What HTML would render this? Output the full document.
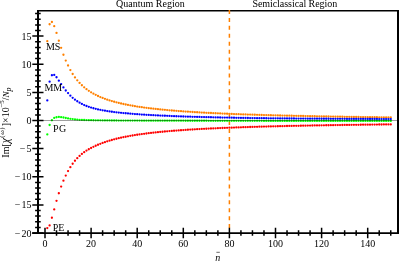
<!DOCTYPE html>
<html><head><meta charset="utf-8"><title>plot</title>
<style>
html,body{margin:0;padding:0;background:#fff;}
body{width:399px;height:261px;overflow:hidden;position:relative;font-family:"Liberation Serif",serif;}
</style></head><body>
<svg width="399" height="261" viewBox="0 0 399 261" style="position:absolute;left:0;top:0;will-change:transform">
<rect width="399" height="261" fill="#fff"/>
<g stroke="#000" fill="none">
<path d="M37.0 10.774999999999999 H399.0" stroke-width="1.65"/>
<path d="M398.0 9.95 V233.875" stroke-width="2"/>
</g>
<line x1="229.40" y1="10.0" x2="229.40" y2="229.0" stroke="#ff8000" stroke-width="1.5" stroke-dasharray="4 3.93"/>
<g fill="#ff8000"><circle cx="47.30" cy="41.22" r="1.15"/><circle cx="49.61" cy="24.23" r="1.15"/><circle cx="51.91" cy="21.98" r="1.15"/><circle cx="54.22" cy="26.20" r="1.15"/><circle cx="56.52" cy="32.95" r="1.15"/><circle cx="58.83" cy="40.73" r="1.15"/><circle cx="61.14" cy="47.82" r="1.15"/><circle cx="63.44" cy="54.75" r="1.15"/><circle cx="65.75" cy="60.57" r="1.15"/><circle cx="68.05" cy="65.52" r="1.15"/><circle cx="70.36" cy="70.08" r="1.15"/><circle cx="72.66" cy="74.01" r="1.15"/><circle cx="74.97" cy="77.41" r="1.15"/><circle cx="77.27" cy="80.36" r="1.15"/><circle cx="79.58" cy="82.94" r="1.15"/><circle cx="81.88" cy="85.24" r="1.15"/><circle cx="84.19" cy="87.30" r="1.15"/><circle cx="86.49" cy="89.15" r="1.15"/><circle cx="88.80" cy="90.80" r="1.15"/><circle cx="91.10" cy="92.29" r="1.15"/><circle cx="93.41" cy="93.64" r="1.15"/><circle cx="95.71" cy="94.87" r="1.15"/><circle cx="98.02" cy="96.00" r="1.15"/><circle cx="100.32" cy="97.03" r="1.15"/><circle cx="102.62" cy="97.97" r="1.15"/><circle cx="104.93" cy="98.84" r="1.15"/><circle cx="107.24" cy="99.64" r="1.15"/><circle cx="109.54" cy="100.39" r="1.15"/><circle cx="111.84" cy="101.09" r="1.15"/><circle cx="114.15" cy="101.75" r="1.15"/><circle cx="116.45" cy="102.36" r="1.15"/><circle cx="118.76" cy="102.94" r="1.15"/><circle cx="121.07" cy="103.48" r="1.15"/><circle cx="123.37" cy="103.99" r="1.15"/><circle cx="125.68" cy="104.48" r="1.15"/><circle cx="127.98" cy="104.93" r="1.15"/><circle cx="130.29" cy="105.36" r="1.15"/><circle cx="132.59" cy="105.77" r="1.15"/><circle cx="134.90" cy="106.16" r="1.15"/><circle cx="137.20" cy="106.53" r="1.15"/><circle cx="139.50" cy="106.88" r="1.15"/><circle cx="141.81" cy="107.22" r="1.15"/><circle cx="144.12" cy="107.54" r="1.15"/><circle cx="146.42" cy="107.84" r="1.15"/><circle cx="148.73" cy="108.14" r="1.15"/><circle cx="151.03" cy="108.42" r="1.15"/><circle cx="153.34" cy="108.68" r="1.15"/><circle cx="155.64" cy="108.94" r="1.15"/><circle cx="157.94" cy="109.19" r="1.15"/><circle cx="160.25" cy="109.43" r="1.15"/><circle cx="162.56" cy="109.65" r="1.15"/><circle cx="164.86" cy="109.87" r="1.15"/><circle cx="167.17" cy="110.09" r="1.15"/><circle cx="169.47" cy="110.29" r="1.15"/><circle cx="171.78" cy="110.49" r="1.15"/><circle cx="174.08" cy="110.68" r="1.15"/><circle cx="176.39" cy="110.86" r="1.15"/><circle cx="178.69" cy="111.04" r="1.15"/><circle cx="181.00" cy="111.21" r="1.15"/><circle cx="183.30" cy="111.38" r="1.15"/><circle cx="185.61" cy="111.54" r="1.15"/><circle cx="187.91" cy="111.69" r="1.15"/><circle cx="190.22" cy="111.85" r="1.15"/><circle cx="192.52" cy="111.99" r="1.15"/><circle cx="194.83" cy="112.13" r="1.15"/><circle cx="197.13" cy="112.27" r="1.15"/><circle cx="199.44" cy="112.41" r="1.15"/><circle cx="201.74" cy="112.54" r="1.15"/><circle cx="204.05" cy="112.66" r="1.15"/><circle cx="206.35" cy="112.79" r="1.15"/><circle cx="208.66" cy="112.91" r="1.15"/><circle cx="210.96" cy="113.02" r="1.15"/><circle cx="213.27" cy="113.14" r="1.15"/><circle cx="215.57" cy="113.25" r="1.15"/><circle cx="217.88" cy="113.35" r="1.15"/><circle cx="220.18" cy="113.46" r="1.15"/><circle cx="222.49" cy="113.56" r="1.15"/><circle cx="224.79" cy="113.66" r="1.15"/><circle cx="227.09" cy="113.76" r="1.15"/><circle cx="229.40" cy="113.85" r="1.15"/><circle cx="231.71" cy="113.95" r="1.15"/><circle cx="234.01" cy="114.04" r="1.15"/><circle cx="236.32" cy="114.13" r="1.15"/><circle cx="238.62" cy="114.21" r="1.15"/><circle cx="240.93" cy="114.30" r="1.15"/><circle cx="243.23" cy="114.38" r="1.15"/><circle cx="245.54" cy="114.46" r="1.15"/><circle cx="247.84" cy="114.54" r="1.15"/><circle cx="250.15" cy="114.62" r="1.15"/><circle cx="252.45" cy="114.69" r="1.15"/><circle cx="254.76" cy="114.77" r="1.15"/><circle cx="257.06" cy="114.84" r="1.15"/><circle cx="259.37" cy="114.91" r="1.15"/><circle cx="261.67" cy="114.98" r="1.15"/><circle cx="263.98" cy="115.05" r="1.15"/><circle cx="266.28" cy="115.11" r="1.15"/><circle cx="268.59" cy="115.18" r="1.15"/><circle cx="270.89" cy="115.24" r="1.15"/><circle cx="273.20" cy="115.30" r="1.15"/><circle cx="275.50" cy="115.36" r="1.15"/><circle cx="277.81" cy="115.42" r="1.15"/><circle cx="280.11" cy="115.48" r="1.15"/><circle cx="282.42" cy="115.54" r="1.15"/><circle cx="284.72" cy="115.60" r="1.15"/><circle cx="287.02" cy="115.65" r="1.15"/><circle cx="289.33" cy="115.71" r="1.15"/><circle cx="291.63" cy="115.76" r="1.15"/><circle cx="293.94" cy="115.81" r="1.15"/><circle cx="296.25" cy="115.87" r="1.15"/><circle cx="298.55" cy="115.92" r="1.15"/><circle cx="300.86" cy="115.97" r="1.15"/><circle cx="303.16" cy="116.02" r="1.15"/><circle cx="305.47" cy="116.06" r="1.15"/><circle cx="307.77" cy="116.11" r="1.15"/><circle cx="310.08" cy="116.16" r="1.15"/><circle cx="312.38" cy="116.21" r="1.15"/><circle cx="314.69" cy="116.25" r="1.15"/><circle cx="316.99" cy="116.30" r="1.15"/><circle cx="319.30" cy="116.34" r="1.15"/><circle cx="321.60" cy="116.38" r="1.15"/><circle cx="323.91" cy="116.43" r="1.15"/><circle cx="326.21" cy="116.47" r="1.15"/><circle cx="328.52" cy="116.51" r="1.15"/><circle cx="330.82" cy="116.55" r="1.15"/><circle cx="333.12" cy="116.59" r="1.15"/><circle cx="335.43" cy="116.63" r="1.15"/><circle cx="337.74" cy="116.67" r="1.15"/><circle cx="340.04" cy="116.71" r="1.15"/><circle cx="342.35" cy="116.75" r="1.15"/><circle cx="344.65" cy="116.79" r="1.15"/><circle cx="346.96" cy="116.82" r="1.15"/><circle cx="349.26" cy="116.86" r="1.15"/><circle cx="351.56" cy="116.89" r="1.15"/><circle cx="353.87" cy="116.93" r="1.15"/><circle cx="356.18" cy="116.97" r="1.15"/><circle cx="358.48" cy="117.00" r="1.15"/><circle cx="360.79" cy="117.03" r="1.15"/><circle cx="363.09" cy="117.07" r="1.15"/><circle cx="365.40" cy="117.10" r="1.15"/><circle cx="367.70" cy="117.13" r="1.15"/><circle cx="370.00" cy="117.17" r="1.15"/><circle cx="372.31" cy="117.20" r="1.15"/><circle cx="374.62" cy="117.23" r="1.15"/><circle cx="376.92" cy="117.26" r="1.15"/><circle cx="379.23" cy="117.29" r="1.15"/><circle cx="381.53" cy="117.32" r="1.15"/><circle cx="383.84" cy="117.35" r="1.15"/><circle cx="386.14" cy="117.38" r="1.15"/><circle cx="388.45" cy="117.41" r="1.15"/><circle cx="390.75" cy="117.44" r="1.15"/></g>
<g fill="#0000ff"><circle cx="47.30" cy="100.38" r="1.15"/><circle cx="49.61" cy="81.71" r="1.15"/><circle cx="51.91" cy="75.24" r="1.15"/><circle cx="54.22" cy="74.89" r="1.15"/><circle cx="56.52" cy="77.26" r="1.15"/><circle cx="58.83" cy="80.67" r="1.15"/><circle cx="61.14" cy="84.08" r="1.15"/><circle cx="63.44" cy="87.47" r="1.15"/><circle cx="65.75" cy="90.49" r="1.15"/><circle cx="68.05" cy="93.12" r="1.15"/><circle cx="70.36" cy="95.64" r="1.15"/><circle cx="72.66" cy="97.78" r="1.15"/><circle cx="74.97" cy="99.65" r="1.15"/><circle cx="77.27" cy="101.27" r="1.15"/><circle cx="79.58" cy="102.71" r="1.15"/><circle cx="81.88" cy="103.96" r="1.15"/><circle cx="84.19" cy="105.04" r="1.15"/><circle cx="86.49" cy="105.99" r="1.15"/><circle cx="88.80" cy="106.85" r="1.15"/><circle cx="91.10" cy="107.61" r="1.15"/><circle cx="93.41" cy="108.26" r="1.15"/><circle cx="95.71" cy="108.86" r="1.15"/><circle cx="98.02" cy="109.39" r="1.15"/><circle cx="100.32" cy="109.87" r="1.15"/><circle cx="102.62" cy="110.32" r="1.15"/><circle cx="104.93" cy="110.72" r="1.15"/><circle cx="107.24" cy="111.09" r="1.15"/><circle cx="109.54" cy="111.43" r="1.15"/><circle cx="111.84" cy="111.74" r="1.15"/><circle cx="114.15" cy="112.03" r="1.15"/><circle cx="116.45" cy="112.31" r="1.15"/><circle cx="118.76" cy="112.56" r="1.15"/><circle cx="121.07" cy="112.80" r="1.15"/><circle cx="123.37" cy="113.04" r="1.15"/><circle cx="125.68" cy="113.26" r="1.15"/><circle cx="127.98" cy="113.47" r="1.15"/><circle cx="130.29" cy="113.67" r="1.15"/><circle cx="132.59" cy="113.86" r="1.15"/><circle cx="134.90" cy="114.04" r="1.15"/><circle cx="137.20" cy="114.21" r="1.15"/><circle cx="139.50" cy="114.37" r="1.15"/><circle cx="141.81" cy="114.53" r="1.15"/><circle cx="144.12" cy="114.68" r="1.15"/><circle cx="146.42" cy="114.82" r="1.15"/><circle cx="148.73" cy="114.96" r="1.15"/><circle cx="151.03" cy="115.09" r="1.15"/><circle cx="153.34" cy="115.21" r="1.15"/><circle cx="155.64" cy="115.33" r="1.15"/><circle cx="157.94" cy="115.45" r="1.15"/><circle cx="160.25" cy="115.56" r="1.15"/><circle cx="162.56" cy="115.67" r="1.15"/><circle cx="164.86" cy="115.77" r="1.15"/><circle cx="167.17" cy="115.87" r="1.15"/><circle cx="169.47" cy="115.97" r="1.15"/><circle cx="171.78" cy="116.06" r="1.15"/><circle cx="174.08" cy="116.15" r="1.15"/><circle cx="176.39" cy="116.24" r="1.15"/><circle cx="178.69" cy="116.32" r="1.15"/><circle cx="181.00" cy="116.40" r="1.15"/><circle cx="183.30" cy="116.48" r="1.15"/><circle cx="185.61" cy="116.56" r="1.15"/><circle cx="187.91" cy="116.63" r="1.15"/><circle cx="190.22" cy="116.71" r="1.15"/><circle cx="192.52" cy="116.78" r="1.15"/><circle cx="194.83" cy="116.84" r="1.15"/><circle cx="197.13" cy="116.91" r="1.15"/><circle cx="199.44" cy="116.97" r="1.15"/><circle cx="201.74" cy="117.04" r="1.15"/><circle cx="204.05" cy="117.10" r="1.15"/><circle cx="206.35" cy="117.16" r="1.15"/><circle cx="208.66" cy="117.21" r="1.15"/><circle cx="210.96" cy="117.27" r="1.15"/><circle cx="213.27" cy="117.32" r="1.15"/><circle cx="215.57" cy="117.38" r="1.15"/><circle cx="217.88" cy="117.43" r="1.15"/><circle cx="220.18" cy="117.48" r="1.15"/><circle cx="222.49" cy="117.53" r="1.15"/><circle cx="224.79" cy="117.58" r="1.15"/><circle cx="227.09" cy="117.62" r="1.15"/><circle cx="229.40" cy="117.67" r="1.15"/><circle cx="231.71" cy="117.72" r="1.15"/><circle cx="234.01" cy="117.76" r="1.15"/><circle cx="236.32" cy="117.80" r="1.15"/><circle cx="238.62" cy="117.84" r="1.15"/><circle cx="240.93" cy="117.89" r="1.15"/><circle cx="243.23" cy="117.93" r="1.15"/><circle cx="245.54" cy="117.96" r="1.15"/><circle cx="247.84" cy="118.00" r="1.15"/><circle cx="250.15" cy="118.04" r="1.15"/><circle cx="252.45" cy="118.08" r="1.15"/><circle cx="254.76" cy="118.11" r="1.15"/><circle cx="257.06" cy="118.14" r="1.15"/><circle cx="259.37" cy="118.17" r="1.15"/><circle cx="261.67" cy="118.20" r="1.15"/><circle cx="263.98" cy="118.22" r="1.15"/><circle cx="266.28" cy="118.25" r="1.15"/><circle cx="268.59" cy="118.28" r="1.15"/><circle cx="270.89" cy="118.30" r="1.15"/><circle cx="273.20" cy="118.33" r="1.15"/><circle cx="275.50" cy="118.35" r="1.15"/><circle cx="277.81" cy="118.37" r="1.15"/><circle cx="280.11" cy="118.39" r="1.15"/><circle cx="282.42" cy="118.42" r="1.15"/><circle cx="284.72" cy="118.44" r="1.15"/><circle cx="287.02" cy="118.46" r="1.15"/><circle cx="289.33" cy="118.48" r="1.15"/><circle cx="291.63" cy="118.50" r="1.15"/><circle cx="293.94" cy="118.52" r="1.15"/><circle cx="296.25" cy="118.54" r="1.15"/><circle cx="298.55" cy="118.56" r="1.15"/><circle cx="300.86" cy="118.58" r="1.15"/><circle cx="303.16" cy="118.60" r="1.15"/><circle cx="305.47" cy="118.61" r="1.15"/><circle cx="307.77" cy="118.63" r="1.15"/><circle cx="310.08" cy="118.65" r="1.15"/><circle cx="312.38" cy="118.67" r="1.15"/><circle cx="314.69" cy="118.68" r="1.15"/><circle cx="316.99" cy="118.70" r="1.15"/><circle cx="319.30" cy="118.71" r="1.15"/><circle cx="321.60" cy="118.73" r="1.15"/><circle cx="323.91" cy="118.74" r="1.15"/><circle cx="326.21" cy="118.76" r="1.15"/><circle cx="328.52" cy="118.77" r="1.15"/><circle cx="330.82" cy="118.79" r="1.15"/><circle cx="333.12" cy="118.80" r="1.15"/><circle cx="335.43" cy="118.82" r="1.15"/><circle cx="337.74" cy="118.83" r="1.15"/><circle cx="340.04" cy="118.84" r="1.15"/><circle cx="342.35" cy="118.86" r="1.15"/><circle cx="344.65" cy="118.87" r="1.15"/><circle cx="346.96" cy="118.88" r="1.15"/><circle cx="349.26" cy="118.89" r="1.15"/><circle cx="351.56" cy="118.91" r="1.15"/><circle cx="353.87" cy="118.92" r="1.15"/><circle cx="356.18" cy="118.93" r="1.15"/><circle cx="358.48" cy="118.94" r="1.15"/><circle cx="360.79" cy="118.95" r="1.15"/><circle cx="363.09" cy="118.96" r="1.15"/><circle cx="365.40" cy="118.97" r="1.15"/><circle cx="367.70" cy="118.98" r="1.15"/><circle cx="370.00" cy="118.99" r="1.15"/><circle cx="372.31" cy="119.00" r="1.15"/><circle cx="374.62" cy="119.01" r="1.15"/><circle cx="376.92" cy="119.02" r="1.15"/><circle cx="379.23" cy="119.03" r="1.15"/><circle cx="381.53" cy="119.04" r="1.15"/><circle cx="383.84" cy="119.05" r="1.15"/><circle cx="386.14" cy="119.06" r="1.15"/><circle cx="388.45" cy="119.07" r="1.15"/><circle cx="390.75" cy="119.08" r="1.15"/></g>
<g fill="#00ff00"><circle cx="47.30" cy="134.46" r="1.15"/><circle cx="49.61" cy="125.00" r="1.15"/><circle cx="51.91" cy="120.26" r="1.15"/><circle cx="54.22" cy="117.89" r="1.15"/><circle cx="56.52" cy="117.26" r="1.15"/><circle cx="58.83" cy="116.97" r="1.15"/><circle cx="61.14" cy="117.13" r="1.15"/><circle cx="63.44" cy="117.52" r="1.15"/><circle cx="65.75" cy="118.01" r="1.15"/><circle cx="68.05" cy="118.40" r="1.15"/><circle cx="70.36" cy="118.78" r="1.15"/><circle cx="72.66" cy="119.11" r="1.15"/><circle cx="74.97" cy="119.39" r="1.15"/><circle cx="77.27" cy="119.62" r="1.15"/><circle cx="79.58" cy="119.79" r="1.15"/><circle cx="81.88" cy="119.93" r="1.15"/><circle cx="84.19" cy="120.01" r="1.15"/><circle cx="86.49" cy="120.09" r="1.15"/><circle cx="88.80" cy="120.15" r="1.15"/><circle cx="91.10" cy="120.20" r="1.15"/><circle cx="93.41" cy="120.24" r="1.15"/><circle cx="95.71" cy="120.28" r="1.15"/><circle cx="98.02" cy="120.33" r="1.15"/><circle cx="100.32" cy="120.37" r="1.15"/><circle cx="102.62" cy="120.40" r="1.15"/><circle cx="104.93" cy="120.42" r="1.15"/><circle cx="107.24" cy="120.45" r="1.15"/><circle cx="109.54" cy="120.47" r="1.15"/><circle cx="111.84" cy="120.49" r="1.15"/><circle cx="114.15" cy="120.50" r="1.15"/><circle cx="116.45" cy="120.52" r="1.15"/><circle cx="118.76" cy="120.53" r="1.15"/><circle cx="121.07" cy="120.54" r="1.15"/><circle cx="123.37" cy="120.55" r="1.15"/><circle cx="125.68" cy="120.56" r="1.15"/><circle cx="127.98" cy="120.57" r="1.15"/><circle cx="130.29" cy="120.58" r="1.15"/><circle cx="132.59" cy="120.59" r="1.15"/><circle cx="134.90" cy="120.60" r="1.15"/><circle cx="137.20" cy="120.61" r="1.15"/><circle cx="139.50" cy="120.62" r="1.15"/><circle cx="141.81" cy="120.63" r="1.15"/><circle cx="144.12" cy="120.64" r="1.15"/><circle cx="146.42" cy="120.65" r="1.15"/><circle cx="148.73" cy="120.66" r="1.15"/><circle cx="151.03" cy="120.66" r="1.15"/><circle cx="153.34" cy="120.66" r="1.15"/><circle cx="155.64" cy="120.67" r="1.15"/><circle cx="157.94" cy="120.67" r="1.15"/><circle cx="160.25" cy="120.68" r="1.15"/><circle cx="162.56" cy="120.68" r="1.15"/><circle cx="164.86" cy="120.68" r="1.15"/><circle cx="167.17" cy="120.69" r="1.15"/><circle cx="169.47" cy="120.69" r="1.15"/><circle cx="171.78" cy="120.70" r="1.15"/><circle cx="174.08" cy="120.70" r="1.15"/><circle cx="176.39" cy="120.71" r="1.15"/><circle cx="178.69" cy="120.71" r="1.15"/><circle cx="181.00" cy="120.72" r="1.15"/><circle cx="183.30" cy="120.72" r="1.15"/><circle cx="185.61" cy="120.73" r="1.15"/><circle cx="187.91" cy="120.73" r="1.15"/><circle cx="190.22" cy="120.74" r="1.15"/><circle cx="192.52" cy="120.74" r="1.15"/><circle cx="194.83" cy="120.75" r="1.15"/><circle cx="197.13" cy="120.75" r="1.15"/><circle cx="199.44" cy="120.76" r="1.15"/><circle cx="201.74" cy="120.76" r="1.15"/><circle cx="204.05" cy="120.77" r="1.15"/><circle cx="206.35" cy="120.77" r="1.15"/><circle cx="208.66" cy="120.78" r="1.15"/><circle cx="210.96" cy="120.78" r="1.15"/><circle cx="213.27" cy="120.79" r="1.15"/><circle cx="215.57" cy="120.79" r="1.15"/><circle cx="217.88" cy="120.80" r="1.15"/><circle cx="220.18" cy="120.80" r="1.15"/><circle cx="222.49" cy="120.81" r="1.15"/><circle cx="224.79" cy="120.81" r="1.15"/><circle cx="227.09" cy="120.82" r="1.15"/><circle cx="229.40" cy="120.82" r="1.15"/><circle cx="231.71" cy="120.83" r="1.15"/><circle cx="234.01" cy="120.83" r="1.15"/><circle cx="236.32" cy="120.84" r="1.15"/><circle cx="238.62" cy="120.84" r="1.15"/><circle cx="240.93" cy="120.84" r="1.15"/><circle cx="243.23" cy="120.85" r="1.15"/><circle cx="245.54" cy="120.85" r="1.15"/><circle cx="247.84" cy="120.86" r="1.15"/><circle cx="250.15" cy="120.86" r="1.15"/><circle cx="252.45" cy="120.86" r="1.15"/><circle cx="254.76" cy="120.87" r="1.15"/><circle cx="257.06" cy="120.87" r="1.15"/><circle cx="259.37" cy="120.87" r="1.15"/><circle cx="261.67" cy="120.87" r="1.15"/><circle cx="263.98" cy="120.88" r="1.15"/><circle cx="266.28" cy="120.88" r="1.15"/><circle cx="268.59" cy="120.88" r="1.15"/><circle cx="270.89" cy="120.88" r="1.15"/><circle cx="273.20" cy="120.88" r="1.15"/><circle cx="275.50" cy="120.88" r="1.15"/><circle cx="277.81" cy="120.89" r="1.15"/><circle cx="280.11" cy="120.89" r="1.15"/><circle cx="282.42" cy="120.89" r="1.15"/><circle cx="284.72" cy="120.89" r="1.15"/><circle cx="287.02" cy="120.89" r="1.15"/><circle cx="289.33" cy="120.89" r="1.15"/><circle cx="291.63" cy="120.89" r="1.15"/><circle cx="293.94" cy="120.89" r="1.15"/><circle cx="296.25" cy="120.90" r="1.15"/><circle cx="298.55" cy="120.90" r="1.15"/><circle cx="300.86" cy="120.90" r="1.15"/><circle cx="303.16" cy="120.90" r="1.15"/><circle cx="305.47" cy="120.90" r="1.15"/><circle cx="307.77" cy="120.90" r="1.15"/><circle cx="310.08" cy="120.90" r="1.15"/><circle cx="312.38" cy="120.90" r="1.15"/><circle cx="314.69" cy="120.90" r="1.15"/><circle cx="316.99" cy="120.91" r="1.15"/><circle cx="319.30" cy="120.91" r="1.15"/><circle cx="321.60" cy="120.91" r="1.15"/><circle cx="323.91" cy="120.91" r="1.15"/><circle cx="326.21" cy="120.91" r="1.15"/><circle cx="328.52" cy="120.91" r="1.15"/><circle cx="330.82" cy="120.91" r="1.15"/><circle cx="333.12" cy="120.91" r="1.15"/><circle cx="335.43" cy="120.91" r="1.15"/><circle cx="337.74" cy="120.91" r="1.15"/><circle cx="340.04" cy="120.91" r="1.15"/><circle cx="342.35" cy="120.91" r="1.15"/><circle cx="344.65" cy="120.91" r="1.15"/><circle cx="346.96" cy="120.91" r="1.15"/><circle cx="349.26" cy="120.91" r="1.15"/><circle cx="351.56" cy="120.91" r="1.15"/><circle cx="353.87" cy="120.92" r="1.15"/><circle cx="356.18" cy="120.92" r="1.15"/><circle cx="358.48" cy="120.92" r="1.15"/><circle cx="360.79" cy="120.92" r="1.15"/><circle cx="363.09" cy="120.92" r="1.15"/><circle cx="365.40" cy="120.92" r="1.15"/><circle cx="367.70" cy="120.92" r="1.15"/><circle cx="370.00" cy="120.92" r="1.15"/><circle cx="372.31" cy="120.92" r="1.15"/><circle cx="374.62" cy="120.92" r="1.15"/><circle cx="376.92" cy="120.92" r="1.15"/><circle cx="379.23" cy="120.91" r="1.15"/><circle cx="381.53" cy="120.91" r="1.15"/><circle cx="383.84" cy="120.91" r="1.15"/><circle cx="386.14" cy="120.91" r="1.15"/><circle cx="388.45" cy="120.91" r="1.15"/><circle cx="390.75" cy="120.91" r="1.15"/></g>
<g fill="#ff0000"><circle cx="47.30" cy="228.12" r="1.15"/><circle cx="49.61" cy="225.43" r="1.15"/><circle cx="51.91" cy="217.74" r="1.15"/><circle cx="54.22" cy="209.39" r="1.15"/><circle cx="56.52" cy="200.79" r="1.15"/><circle cx="58.83" cy="193.27" r="1.15"/><circle cx="61.14" cy="186.53" r="1.15"/><circle cx="63.44" cy="180.71" r="1.15"/><circle cx="65.75" cy="175.55" r="1.15"/><circle cx="68.05" cy="171.03" r="1.15"/><circle cx="70.36" cy="167.16" r="1.15"/><circle cx="72.66" cy="163.74" r="1.15"/><circle cx="74.97" cy="160.76" r="1.15"/><circle cx="77.27" cy="158.17" r="1.15"/><circle cx="79.58" cy="155.91" r="1.15"/><circle cx="81.88" cy="153.90" r="1.15"/><circle cx="84.19" cy="152.15" r="1.15"/><circle cx="86.49" cy="150.61" r="1.15"/><circle cx="88.80" cy="149.24" r="1.15"/><circle cx="91.10" cy="147.99" r="1.15"/><circle cx="93.41" cy="146.84" r="1.15"/><circle cx="95.71" cy="145.76" r="1.15"/><circle cx="98.02" cy="144.76" r="1.15"/><circle cx="100.32" cy="143.81" r="1.15"/><circle cx="102.62" cy="142.94" r="1.15"/><circle cx="104.93" cy="142.13" r="1.15"/><circle cx="107.24" cy="141.37" r="1.15"/><circle cx="109.54" cy="140.65" r="1.15"/><circle cx="111.84" cy="139.98" r="1.15"/><circle cx="114.15" cy="139.34" r="1.15"/><circle cx="116.45" cy="138.75" r="1.15"/><circle cx="118.76" cy="138.20" r="1.15"/><circle cx="121.07" cy="137.68" r="1.15"/><circle cx="123.37" cy="137.19" r="1.15"/><circle cx="125.68" cy="136.73" r="1.15"/><circle cx="127.98" cy="136.29" r="1.15"/><circle cx="130.29" cy="135.87" r="1.15"/><circle cx="132.59" cy="135.48" r="1.15"/><circle cx="134.90" cy="135.10" r="1.15"/><circle cx="137.20" cy="134.75" r="1.15"/><circle cx="139.50" cy="134.41" r="1.15"/><circle cx="141.81" cy="134.09" r="1.15"/><circle cx="144.12" cy="133.78" r="1.15"/><circle cx="146.42" cy="133.48" r="1.15"/><circle cx="148.73" cy="133.20" r="1.15"/><circle cx="151.03" cy="132.93" r="1.15"/><circle cx="153.34" cy="132.67" r="1.15"/><circle cx="155.64" cy="132.42" r="1.15"/><circle cx="157.94" cy="132.18" r="1.15"/><circle cx="160.25" cy="131.95" r="1.15"/><circle cx="162.56" cy="131.73" r="1.15"/><circle cx="164.86" cy="131.52" r="1.15"/><circle cx="167.17" cy="131.32" r="1.15"/><circle cx="169.47" cy="131.12" r="1.15"/><circle cx="171.78" cy="130.93" r="1.15"/><circle cx="174.08" cy="130.75" r="1.15"/><circle cx="176.39" cy="130.57" r="1.15"/><circle cx="178.69" cy="130.40" r="1.15"/><circle cx="181.00" cy="130.23" r="1.15"/><circle cx="183.30" cy="130.07" r="1.15"/><circle cx="185.61" cy="129.92" r="1.15"/><circle cx="187.91" cy="129.77" r="1.15"/><circle cx="190.22" cy="129.62" r="1.15"/><circle cx="192.52" cy="129.48" r="1.15"/><circle cx="194.83" cy="129.35" r="1.15"/><circle cx="197.13" cy="129.22" r="1.15"/><circle cx="199.44" cy="129.09" r="1.15"/><circle cx="201.74" cy="128.96" r="1.15"/><circle cx="204.05" cy="128.84" r="1.15"/><circle cx="206.35" cy="128.73" r="1.15"/><circle cx="208.66" cy="128.61" r="1.15"/><circle cx="210.96" cy="128.50" r="1.15"/><circle cx="213.27" cy="128.39" r="1.15"/><circle cx="215.57" cy="128.29" r="1.15"/><circle cx="217.88" cy="128.19" r="1.15"/><circle cx="220.18" cy="128.09" r="1.15"/><circle cx="222.49" cy="127.99" r="1.15"/><circle cx="224.79" cy="127.90" r="1.15"/><circle cx="227.09" cy="127.80" r="1.15"/><circle cx="229.40" cy="127.72" r="1.15"/><circle cx="231.71" cy="127.63" r="1.15"/><circle cx="234.01" cy="127.54" r="1.15"/><circle cx="236.32" cy="127.46" r="1.15"/><circle cx="238.62" cy="127.38" r="1.15"/><circle cx="240.93" cy="127.30" r="1.15"/><circle cx="243.23" cy="127.22" r="1.15"/><circle cx="245.54" cy="127.14" r="1.15"/><circle cx="247.84" cy="127.07" r="1.15"/><circle cx="250.15" cy="127.00" r="1.15"/><circle cx="252.45" cy="126.93" r="1.15"/><circle cx="254.76" cy="126.86" r="1.15"/><circle cx="257.06" cy="126.79" r="1.15"/><circle cx="259.37" cy="126.72" r="1.15"/><circle cx="261.67" cy="126.66" r="1.15"/><circle cx="263.98" cy="126.59" r="1.15"/><circle cx="266.28" cy="126.53" r="1.15"/><circle cx="268.59" cy="126.47" r="1.15"/><circle cx="270.89" cy="126.41" r="1.15"/><circle cx="273.20" cy="126.35" r="1.15"/><circle cx="275.50" cy="126.30" r="1.15"/><circle cx="277.81" cy="126.24" r="1.15"/><circle cx="280.11" cy="126.18" r="1.15"/><circle cx="282.42" cy="126.13" r="1.15"/><circle cx="284.72" cy="126.08" r="1.15"/><circle cx="287.02" cy="126.02" r="1.15"/><circle cx="289.33" cy="125.97" r="1.15"/><circle cx="291.63" cy="125.92" r="1.15"/><circle cx="293.94" cy="125.87" r="1.15"/><circle cx="296.25" cy="125.82" r="1.15"/><circle cx="298.55" cy="125.78" r="1.15"/><circle cx="300.86" cy="125.73" r="1.15"/><circle cx="303.16" cy="125.68" r="1.15"/><circle cx="305.47" cy="125.64" r="1.15"/><circle cx="307.77" cy="125.59" r="1.15"/><circle cx="310.08" cy="125.55" r="1.15"/><circle cx="312.38" cy="125.51" r="1.15"/><circle cx="314.69" cy="125.47" r="1.15"/><circle cx="316.99" cy="125.42" r="1.15"/><circle cx="319.30" cy="125.38" r="1.15"/><circle cx="321.60" cy="125.34" r="1.15"/><circle cx="323.91" cy="125.30" r="1.15"/><circle cx="326.21" cy="125.26" r="1.15"/><circle cx="328.52" cy="125.23" r="1.15"/><circle cx="330.82" cy="125.19" r="1.15"/><circle cx="333.12" cy="125.15" r="1.15"/><circle cx="335.43" cy="125.12" r="1.15"/><circle cx="337.74" cy="125.08" r="1.15"/><circle cx="340.04" cy="125.04" r="1.15"/><circle cx="342.35" cy="125.01" r="1.15"/><circle cx="344.65" cy="124.97" r="1.15"/><circle cx="346.96" cy="124.94" r="1.15"/><circle cx="349.26" cy="124.91" r="1.15"/><circle cx="351.56" cy="124.87" r="1.15"/><circle cx="353.87" cy="124.84" r="1.15"/><circle cx="356.18" cy="124.81" r="1.15"/><circle cx="358.48" cy="124.78" r="1.15"/><circle cx="360.79" cy="124.75" r="1.15"/><circle cx="363.09" cy="124.72" r="1.15"/><circle cx="365.40" cy="124.69" r="1.15"/><circle cx="367.70" cy="124.66" r="1.15"/><circle cx="370.00" cy="124.63" r="1.15"/><circle cx="372.31" cy="124.60" r="1.15"/><circle cx="374.62" cy="124.57" r="1.15"/><circle cx="376.92" cy="124.54" r="1.15"/><circle cx="379.23" cy="124.51" r="1.15"/><circle cx="381.53" cy="124.49" r="1.15"/><circle cx="383.84" cy="124.46" r="1.15"/><circle cx="386.14" cy="124.43" r="1.15"/><circle cx="388.45" cy="124.41" r="1.15"/><circle cx="390.75" cy="124.38" r="1.15"/></g>
<line x1="38.0" y1="120.5" x2="398.0" y2="120.5" stroke="#000" stroke-width="0.38"/>
<g stroke="#000" fill="none">
<path d="M38.0 10.7 V233.875" stroke-width="2"/>
<path d="M32.2 233.0 H399.0" stroke-width="1.75"/>
<path d="M32.3 233.00 H43.5 M35.1 227.38 H40.7 M35.1 221.75 H40.7 M35.1 216.12 H40.7 M35.1 210.50 H40.7 M32.3 204.88 H43.5 M35.1 199.25 H40.7 M35.1 193.62 H40.7 M35.1 188.00 H40.7 M35.1 182.38 H40.7 M32.3 176.75 H43.5 M35.1 171.12 H40.7 M35.1 165.50 H40.7 M35.1 159.88 H40.7 M35.1 154.25 H40.7 M32.3 148.62 H43.5 M35.1 143.00 H40.7 M35.1 137.38 H40.7 M35.1 131.75 H40.7 M35.1 126.12 H40.7 M32.3 120.50 H43.5 M35.1 114.88 H40.7 M35.1 109.25 H40.7 M35.1 103.62 H40.7 M35.1 98.00 H40.7 M32.3 92.38 H43.5 M35.1 86.75 H40.7 M35.1 81.12 H40.7 M35.1 75.50 H40.7 M35.1 69.88 H40.7 M32.3 64.25 H43.5 M35.1 58.62 H40.7 M35.1 53.00 H40.7 M35.1 47.38 H40.7 M35.1 41.75 H40.7 M32.3 36.12 H43.5 M35.1 30.50 H40.7 M35.1 24.88 H40.7 M35.1 19.25 H40.7 M35.1 13.62 H40.7 M45.00 227.7 V238.3 M56.52 230.2 V235.8 M68.05 230.2 V235.8 M79.58 230.2 V235.8 M91.10 227.7 V238.3 M102.62 230.2 V235.8 M114.15 230.2 V235.8 M125.68 230.2 V235.8 M137.20 227.7 V238.3 M148.73 230.2 V235.8 M160.25 230.2 V235.8 M171.78 230.2 V235.8 M183.30 227.7 V238.3 M194.83 230.2 V235.8 M206.35 230.2 V235.8 M217.88 230.2 V235.8 M229.40 227.7 V238.3 M240.93 230.2 V235.8 M252.45 230.2 V235.8 M263.98 230.2 V235.8 M275.50 227.7 V238.3 M287.02 230.2 V235.8 M298.55 230.2 V235.8 M310.08 230.2 V235.8 M321.60 227.7 V238.3 M333.12 230.2 V235.8 M344.65 230.2 V235.8 M356.18 230.2 V235.8 M367.70 227.7 V238.3 M379.23 230.2 V235.8 M390.75 230.2 V235.8" stroke-width="1.5"/>
</g>
<g font-family="'Liberation Serif', serif" font-size="10px" fill="#000" style="filter:grayscale(1)">
<text x="31.5" y="236.60" text-anchor="end">−<tspan dx="1">20</tspan></text>
<text x="31.5" y="208.47" text-anchor="end">−<tspan dx="1">15</tspan></text>
<text x="31.5" y="180.35" text-anchor="end">−<tspan dx="1">10</tspan></text>
<text x="31.5" y="152.22" text-anchor="end">−<tspan dx="1">5</tspan></text>
<text x="31.5" y="124.10" text-anchor="end">0</text>
<text x="31.5" y="95.97" text-anchor="end">5</text>
<text x="31.5" y="67.85" text-anchor="end">10</text>
<text x="31.5" y="39.73" text-anchor="end">15</text>
<text x="45.00" y="246.7" text-anchor="middle">0</text>
<text x="91.10" y="246.7" text-anchor="middle">20</text>
<text x="137.20" y="246.7" text-anchor="middle">40</text>
<text x="183.30" y="246.7" text-anchor="middle">60</text>
<text x="229.40" y="246.7" text-anchor="middle">80</text>
<text x="275.50" y="246.7" text-anchor="middle">100</text>
<text x="321.60" y="246.7" text-anchor="middle">120</text>
<text x="367.70" y="246.7" text-anchor="middle">140</text>
<text x="150.4" y="7.3" text-anchor="middle">Quantum Region</text>
<text x="294.8" y="7.3" text-anchor="middle" letter-spacing="-0.05">Semiclassical Region</text>
<text x="46.0" y="49.5" letter-spacing="-0.2">MS</text>
<text x="44.6" y="90.7" letter-spacing="-0.3">MM</text>
<text x="53.0" y="131.9" letter-spacing="0.5">PG</text>
<text x="52.8" y="231.1">PE</text>
<text x="215.2" y="261.3" font-style="italic">n</text>
<line x1="216.4" y1="252.3" x2="219.8" y2="252.3" stroke="#000" stroke-width="0.6"/>
<text transform="translate(9,157.7) rotate(-90)">Im[<tspan font-style="italic" font-size="11.5px">χ</tspan><tspan font-size="7px" dx="0.4" dy="-4.9" letter-spacing="0.6">(ω)</tspan><tspan dx="0.4" dy="4.9">]×10</tspan><tspan font-size="7px" dy="-5.1">−<tspan dx="-0.3">5</tspan></tspan><tspan dy="5.1">/</tspan><tspan font-style="italic" font-size="9.2px">N</tspan><tspan font-size="8px" font-style="italic" dy="2" dx="-0.3">p</tspan></text>
</g>
</svg>
</body></html>
